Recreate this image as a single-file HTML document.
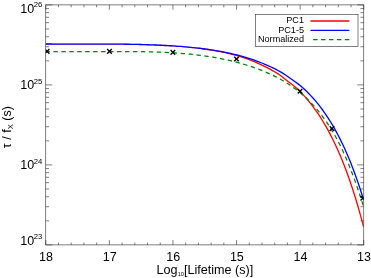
<!DOCTYPE html>
<html><head><meta charset="utf-8"><title>plot</title>
<style>
html,body{margin:0;padding:0;background:#fff;}
body{width:371px;height:278px;overflow:hidden;}
svg{display:block;will-change:transform;}
text{font-family:"Liberation Sans",sans-serif;fill:#000;}
</style></head><body>
<svg width="371" height="278" viewBox="0 0 371 278">
<rect x="0" y="0" width="371" height="278" fill="#fff"/>
<defs><clipPath id="c"><rect x="45.75" y="4.90" width="318.00" height="240.00"/></clipPath></defs>

<path d="M45.75,244.9v-4.8M45.75,4.9v4.8M58.47,244.9v-2.4M58.47,4.9v2.4M71.19,244.9v-2.4M71.19,4.9v2.4M83.91,244.9v-2.4M83.91,4.9v2.4M96.63,244.9v-2.4M96.63,4.9v2.4M109.35,244.9v-4.8M109.35,4.9v4.8M122.07,244.9v-2.4M122.07,4.9v2.4M134.79,244.9v-2.4M134.79,4.9v2.4M147.51,244.9v-2.4M147.51,4.9v2.4M160.23,244.9v-2.4M160.23,4.9v2.4M172.95,244.9v-4.8M172.95,4.9v4.8M185.67,244.9v-2.4M185.67,4.9v2.4M198.39,244.9v-2.4M198.39,4.9v2.4M211.11,244.9v-2.4M211.11,4.9v2.4M223.83,244.9v-2.4M223.83,4.9v2.4M236.55,244.9v-4.8M236.55,4.9v4.8M249.27,244.9v-2.4M249.27,4.9v2.4M261.99,244.9v-2.4M261.99,4.9v2.4M274.71,244.9v-2.4M274.71,4.9v2.4M287.43,244.9v-2.4M287.43,4.9v2.4M300.15,244.9v-4.8M300.15,4.9v4.8M312.87,244.9v-2.4M312.87,4.9v2.4M325.59,244.9v-2.4M325.59,4.9v2.4M338.31,244.9v-2.4M338.31,4.9v2.4M351.03,244.9v-2.4M351.03,4.9v2.4M363.75,244.9v-4.8M363.75,4.9v4.8" stroke="#303030" stroke-width="0.62" fill="none"/>
<path d="M45.75,84.90h6.5M363.75,84.90h-6.5M45.75,60.82h3.3M363.75,60.82h-3.3M45.75,46.73h3.3M363.75,46.73h-3.3M45.75,36.74h3.3M363.75,36.74h-3.3M45.75,28.98h3.3M363.75,28.98h-3.3M45.75,22.65h3.3M363.75,22.65h-3.3M45.75,17.29h3.3M363.75,17.29h-3.3M45.75,12.65h3.3M363.75,12.65h-3.3M45.75,8.56h3.3M363.75,8.56h-3.3M45.75,164.90h6.5M363.75,164.90h-6.5M45.75,140.82h3.3M363.75,140.82h-3.3M45.75,126.73h3.3M363.75,126.73h-3.3M45.75,116.74h3.3M363.75,116.74h-3.3M45.75,108.98h3.3M363.75,108.98h-3.3M45.75,102.65h3.3M363.75,102.65h-3.3M45.75,97.29h3.3M363.75,97.29h-3.3M45.75,92.65h3.3M363.75,92.65h-3.3M45.75,88.56h3.3M363.75,88.56h-3.3M45.75,244.90h6.5M363.75,244.90h-6.5M45.75,220.82h3.3M363.75,220.82h-3.3M45.75,206.73h3.3M363.75,206.73h-3.3M45.75,196.74h3.3M363.75,196.74h-3.3M45.75,188.98h3.3M363.75,188.98h-3.3M45.75,182.65h3.3M363.75,182.65h-3.3M45.75,177.29h3.3M363.75,177.29h-3.3M45.75,172.65h3.3M363.75,172.65h-3.3M45.75,168.56h3.3M363.75,168.56h-3.3M45.75,4.9h6.5M363.75,4.9h-6.5" stroke="#303030" stroke-width="0.62" fill="none"/>
<g clip-path="url(#c)" fill="none" stroke-linejoin="round">
<path d="M45.50,43.99 L48.00,44.01 L50.50,44.02 L53.00,44.04 L55.50,44.05 L58.00,44.06 L60.50,44.07 L63.00,44.07 L65.50,44.08 L68.00,44.08 L70.50,44.08 L73.00,44.08 L75.50,44.08 L78.00,44.08 L80.50,44.08 L83.00,44.08 L85.50,44.08 L88.00,44.07 L90.50,44.07 L93.00,44.07 L95.50,44.07 L98.00,44.08 L100.50,44.08 L103.00,44.08 L105.50,44.09 L108.00,44.10 L110.50,44.11 L113.00,44.12 L115.50,44.14 L118.00,44.16 L120.50,44.18 L123.00,44.21 L125.50,44.24 L128.00,44.27 L130.50,44.31 L133.00,44.35 L135.50,44.40 L138.00,44.46 L140.50,44.52 L143.00,44.58 L145.50,44.66 L148.00,44.73 L150.50,44.82 L153.00,44.91 L155.50,45.01 L158.00,45.11 L160.50,45.23 L163.00,45.35 L165.50,45.48 L168.00,45.62 L170.50,45.77 L173.00,45.93 L175.50,46.10 L178.00,46.28 L180.50,46.47 L183.00,46.67 L185.50,46.88 L188.00,47.11 L190.50,47.35 L193.00,47.61 L195.50,47.87 L198.00,48.16" stroke="#ff0000" stroke-width="1.3" stroke-opacity="0.45"/>
<path d="M198.00,48.16 L200.50,48.47 L203.00,48.78 L205.50,49.12 L208.00,49.49 L210.50,49.87 L213.00,50.28 L215.50,50.72 L218.00,51.18 L220.50,51.66 L223.00,52.18 L225.50,52.72 L228.00,53.30 L230.50,53.92 L233.00,54.56 L235.50,55.24 L238.00,55.94 L240.50,56.69 L243.00,57.47 L245.50,58.31 L248.00,59.19 L250.50,60.14 L253.00,61.14 L255.50,62.19 L258.00,63.29 L260.50,64.43 L263.00,65.62 L265.50,66.85 L268.00,68.12 L270.50,69.43 L273.00,70.81 L275.50,72.26 L278.00,73.83 L280.50,75.56 L283.00,77.45 L285.50,79.45 L288.00,81.44 L290.50,83.35 L293.00,85.27 L295.50,87.30 L298.00,89.53 L300.50,91.97 L303.00,94.58 L305.50,97.35 L308.00,100.28 L310.50,103.37 L313.00,106.62 L315.50,110.05 L318.00,113.66 L320.50,117.46 L323.00,121.47 L325.50,125.69 L328.00,130.15 L330.50,134.84 L333.00,139.78 L335.50,144.99 L338.00,150.48 L340.50,156.26 L343.00,162.36 L345.50,168.78 L348.00,175.56 L350.50,182.69 L353.00,190.22 L355.50,198.14 L358.00,206.50 L360.50,215.31 L363.00,224.59 L363.50,226.51" stroke="#ff0000" stroke-width="1.3"/>
<path d="M45.50,43.99 L48.00,44.01 L50.50,44.02 L53.00,44.04 L55.50,44.05 L58.00,44.06 L60.50,44.07 L63.00,44.07 L65.50,44.08 L68.00,44.08 L70.50,44.08 L73.00,44.08 L75.50,44.08 L78.00,44.08 L80.50,44.08 L83.00,44.08 L85.50,44.08 L88.00,44.07 L90.50,44.07 L93.00,44.07 L95.50,44.07 L98.00,44.08 L100.50,44.08 L103.00,44.08 L105.50,44.09 L108.00,44.10 L110.50,44.11 L113.00,44.12 L115.50,44.14 L118.00,44.16 L120.50,44.18 L123.00,44.21 L125.50,44.24 L128.00,44.27 L130.50,44.31 L133.00,44.35 L135.50,44.40 L138.00,44.46 L140.50,44.52 L143.00,44.58 L145.50,44.66 L148.00,44.73 L150.50,44.82 L153.00,44.91 L155.50,45.01 L158.00,45.11 L160.50,45.23 L163.00,45.35 L165.50,45.48 L168.00,45.62 L170.50,45.77 L173.00,45.93 L175.50,46.10 L178.00,46.28 L180.50,46.47 L183.00,46.67 L185.50,46.88 L188.00,47.11 L190.50,47.35 L193.00,47.61 L195.50,47.87 L198.00,48.16 L200.50,48.46 L203.00,48.77 L205.50,49.10 L208.00,49.45 L210.50,49.81 L213.00,50.20 L215.50,50.60 L218.00,51.02 L220.50,51.46 L223.00,51.93 L225.50,52.42 L228.00,52.93 L230.50,53.46 L233.00,54.02 L235.50,54.62 L238.00,55.23 L240.50,55.89 L243.00,56.58 L245.50,57.30 L248.00,58.07 L250.50,58.88 L253.00,59.72 L255.50,60.61 L258.00,61.54 L260.50,62.51 L263.00,63.52 L265.50,64.57 L268.00,65.66 L270.50,66.78 L273.00,67.96 L275.50,69.19 L278.00,70.49 L280.50,71.88 L283.00,73.41 L285.50,75.05 L288.00,76.79 L290.50,78.55 L293.00,80.30 L295.50,82.04 L298.00,83.88 L300.50,85.86 L303.00,88.01 L305.50,90.31 L308.00,92.75 L310.50,95.33 L313.00,98.05 L315.50,100.92 L318.00,103.95 L320.50,107.14 L323.00,110.51 L325.50,114.06 L328.00,117.81 L330.50,121.77 L333.00,125.94 L335.50,130.34 L338.00,134.98 L340.50,139.88 L343.00,145.05 L345.50,150.50 L348.00,156.25 L350.50,162.31 L353.00,168.71 L355.50,175.45 L358.00,182.56 L360.50,190.07 L363.00,197.98 L363.50,199.61" stroke="#0000ff" stroke-width="1.3"/>
<path d="M45.50,51.54 L48.00,51.57 L50.50,51.60 L53.00,51.62 L55.50,51.64 L58.00,51.65 L60.50,51.67 L63.00,51.68 L65.50,51.68 L68.00,51.68 L70.50,51.68 L73.00,51.68 L75.50,51.68 L78.00,51.67 L80.50,51.67 L83.00,51.66 L85.50,51.65 L88.00,51.64 L90.50,51.63 L93.00,51.62 L95.50,51.60 L98.00,51.59 L100.50,51.58 L103.00,51.57 L105.50,51.56 L108.00,51.55 L110.50,51.55 L113.00,51.54 L115.50,51.54 L118.00,51.54 L120.50,51.54 L123.00,51.55 L125.50,51.55 L128.00,51.57 L130.50,51.58 L133.00,51.60 L135.50,51.63 L138.00,51.66 L140.50,51.69 L143.00,51.73 L145.50,51.78 L148.00,51.83 L150.50,51.89 L153.00,51.96 L155.50,52.04 L158.00,52.12 L160.50,52.21 L163.00,52.31 L165.50,52.43 L168.00,52.55 L170.50,52.68 L173.00,52.82 L175.50,52.98 L178.00,53.15 L180.50,53.33 L183.00,53.53 L185.50,53.74 L188.00,53.96 L190.50,54.20 L193.00,54.46 L195.50,54.73 L198.00,55.03 L200.50,55.34 L203.00,55.67 L205.50,56.03 L208.00,56.40 L210.50,56.79 L213.00,57.21 L215.50,57.64 L218.00,58.10 L220.50,58.58 L223.00,59.08 L225.50,59.61 L228.00,60.16 L230.50,60.73 L233.00,61.33 L235.50,61.96 L238.00,62.61 L240.50,63.30 L243.00,64.01 L245.50,64.75 L248.00,65.53 L250.50,66.34 L253.00,67.18 L255.50,68.06 L258.00,68.98 L260.50,69.93 L263.00,70.93 L265.50,71.98 L268.00,73.07 L270.50,74.21 L273.00,75.40 L275.50,76.64 L278.00,77.94 L280.50,79.31 L283.00,80.74 L285.50,82.24 L288.00,83.82 L290.50,85.48 L293.00,87.22 L295.50,89.06 L298.00,90.99 L300.50,93.03 L303.00,95.17 L305.50,97.43 L308.00,99.81 L310.50,102.32 L313.00,104.96 L315.50,107.75 L318.00,110.70 L320.50,113.80 L323.00,117.08 L325.50,120.54 L328.00,124.19 L330.50,128.06 L333.00,132.17 L335.50,136.53 L338.00,141.17 L340.50,146.10 L343.00,151.34 L345.50,156.90 L348.00,162.77 L350.50,168.97 L353.00,175.48 L355.50,182.33 L358.00,189.52 L360.50,197.05 L363.00,204.93 L363.50,206.55" stroke="#008000" stroke-width="1.25" stroke-dasharray="4.4 3.55" stroke-dashoffset="0"/>
<path d="M44.80,49.10l4.6,4.6M44.80,53.70l4.6,-4.6M107.15,49.10l4.6,4.6M107.15,53.70l4.6,-4.6M170.55,50.10l4.6,4.6M170.55,54.70l4.6,-4.6M234.20,56.70l4.6,4.6M234.20,61.30l4.6,-4.6M297.70,89.00l4.6,4.6M297.70,93.60l4.6,-4.6M329.70,126.30l4.6,4.6M329.70,130.90l4.6,-4.6M360.50,196.00l4.6,4.6M360.50,200.60l4.6,-4.6" stroke="#000" stroke-width="1.35"/>
</g>
<rect x="45.75" y="4.9" width="318.0" height="240.0" fill="none" stroke="#303030" stroke-width="0.62"/>
<rect x="255.3" y="14.4" width="102.7" height="32.2" fill="#fff" stroke="#303030" stroke-width="0.62"/>
<text x="304.0" y="23.30" font-size="9.1" text-anchor="end">PC1</text>
<path d="M310.5,21.00H349.4" stroke="#ff0000" stroke-width="1.3" fill="none"/>
<text x="304.0" y="32.65" font-size="9.1" text-anchor="end">PC1-5</text>
<path d="M310.5,30.35H349.4" stroke="#0000ff" stroke-width="1.3" fill="none"/>
<text x="304.0" y="42.00" font-size="9.1" text-anchor="end">Normalized</text>
<path d="M310.5,39.70H349.4" stroke="#008000" stroke-width="1.3" fill="none" stroke-dasharray="4.45 3.48" stroke-dashoffset="5.33"/>
<text x="46.05" y="261.0" font-size="12.5" text-anchor="middle">18</text>
<text x="109.65" y="261.0" font-size="12.5" text-anchor="middle">17</text>
<text x="173.25" y="261.0" font-size="12.5" text-anchor="middle">16</text>
<text x="236.85" y="261.0" font-size="12.5" text-anchor="middle">15</text>
<text x="300.45" y="261.0" font-size="12.5" text-anchor="middle">14</text>
<text x="364.05" y="261.0" font-size="12.5" text-anchor="middle">13</text>
<text x="20.3" y="12.6" font-size="12.5">10<tspan font-size="7.7" dx="-0.5" dy="-6.1">26</tspan></text>
<text x="20.3" y="89.2" font-size="12.5">10<tspan font-size="7.7" dx="-0.5" dy="-5.6">25</tspan></text>
<text x="20.3" y="169.2" font-size="12.5">10<tspan font-size="7.7" dx="-0.5" dy="-5.6">24</tspan></text>
<text x="20.3" y="245.1" font-size="12.5">10<tspan font-size="7.7" dx="-0.5" dy="-5.7">23</tspan></text>
<text x="156.6" y="273.9" font-size="12.62">Log<tspan font-size="5.6" dy="1.9">10</tspan><tspan dy="-1.9">[Lifetime (s)]</tspan></text>
<text transform="translate(10.6,148.2) rotate(-90)" font-size="12.5">τ / f<tspan font-size="7.8" dy="2.4">X</tspan><tspan dy="-2.4"> (s)</tspan></text>
</svg></body></html>
